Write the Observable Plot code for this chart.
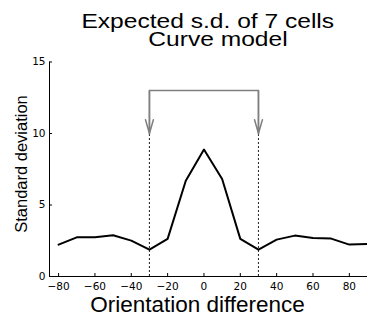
<!DOCTYPE html>
<html><head><meta charset="utf-8">
<script src="https://cdn.jsdelivr.net/npm/d3@7"></script>
<script src="https://cdn.jsdelivr.net/npm/@observablehq/plot@0.6"></script>
<style>
body{margin:0;background:#fff}
#wrap{position:relative;width:367px;height:320px;overflow:hidden;background:#fff}
.lab{position:absolute;white-space:nowrap;line-height:1;color:#000;font-family:"Liberation Sans",Arial,sans-serif}
</style></head><body>
<div id="wrap"></div>
<script>
// ---- data ----
const orientation = [-80, -70, -60, -50, -40, -30, -20, -10, 0, 10, 20, 30, 40, 50, 60, 70, 80, 90];
const stdDev      = [2.23, 2.74, 2.75, 2.88, 2.51, 1.88, 2.63, 6.70, 8.88, 6.82, 2.63, 1.88, 2.58, 2.86, 2.70, 2.65, 2.23, 2.28];
const xTicks = [-80, -60, -40, -20, 0, 20, 40, 60, 80];
const yTicks = [0, 5, 10, 15];
const xDomain = [-85, 90];
const yDomain = [0, 15];
const windowEdges = [-30, 30];
const arrowTop = [13];
const arrowTip = [10];
const titleLines = ["Expected s.d. of 7 cells", "Curve model"];
const xLabel = "Orientation difference";
const yLabel = "Standard deviation";

// ---- derived tables ----
const curve = orientation.map((x, i) => ({x, y: stdDev[i]}));
const bracket = [
  {x: windowEdges[0], y: arrowTip[0]},
  {x: windowEdges[0], y: arrowTop[0]},
  {x: windowEdges[1], y: arrowTop[0]},
  {x: windowEdges[1], y: arrowTip[0]}
];
const arrows = windowEdges.map(x => ({x, y1: arrowTop[0], y2: arrowTip[0]}));

const gray = "#7f7f7f";
const fmt = d3.format("d");

const chart = Plot.plot({
  width: 367,
  height: 320,
  marginLeft: 49,
  marginRight: 0,
  marginTop: 61.5,
  marginBottom: 44,
  style: {fontFamily: "DejaVu Sans, sans-serif", fontSize: "10.5px", background: "#fff", color: "#000"},
  x: {domain: xDomain, label: null},
  y: {domain: yDomain, label: null},
  marks: [
    Plot.ruleX(windowEdges, {y1: yDomain[0], y2: arrowTip[0], stroke: "#333", strokeWidth: 1.1, strokeDasharray: "2,2"}),
    Plot.line(bracket, {x: "x", y: "y", stroke: gray, strokeWidth: 1.5, strokeLinejoin: "miter"}),
    Plot.arrow(arrows, {x1: "x", x2: "x", y1: "y1", y2: "y2", stroke: gray, strokeWidth: 1.5, headAngle: 32, headLength: 16}),
    Plot.line(curve, {x: "x", y: "y", stroke: "#000", strokeWidth: 2}),
    Plot.ruleY(yDomain.slice(0, 1), {stroke: "#000", strokeWidth: 1}),
    Plot.ruleX(xDomain.slice(0, 1), {stroke: "#000", strokeWidth: 1}),
    Plot.axisX({ticks: xTicks, tickFormat: fmt, tickSize: -3, tickPadding: 9, fontSize: 10.5, fontFamily: "DejaVu Sans", label: null}),
    Plot.axisY({ticks: yTicks, tickFormat: fmt, tickSize: -3, tickPadding: 7, fontSize: 10.5, fontFamily: "DejaVu Sans", label: null})
  ]
});

const wrap = document.getElementById("wrap");
wrap.appendChild(chart);

function addLabel(text, css) {
  const d = document.createElement("div");
  d.className = "lab";
  d.textContent = text;
  Object.assign(d.style, css);
  wrap.appendChild(d);
  return d;
}

// two-line title as a single text block (MATLAB-style centered lines)
addLabel(titleLines[0] + "   \n" + titleLines[1], {
  left: "217.5px", top: "11.7px", fontSize: "19.5px", lineHeight: "18px",
  whiteSpace: "pre", textAlign: "center", transform: "translateX(-50%) scaleX(1.26)"
});
addLabel(xLabel, {left: "197.5px", top: "293.5px", fontSize: "22.5px", transform: "translateX(-50%)"});
addLabel(yLabel, {left: "20.8px", top: "164px", fontSize: "16.5px", transform: "translate(-50%,-50%) rotate(-90deg)"});
</script>
</body></html>
